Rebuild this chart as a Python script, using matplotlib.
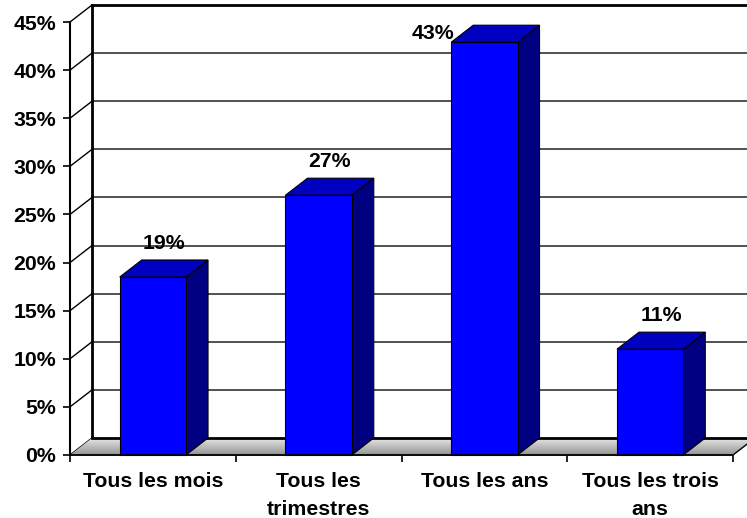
import numpy as np
import matplotlib
matplotlib.use("Agg")
import matplotlib.pyplot as plt
from matplotlib.patches import Polygon
from matplotlib.ticker import FixedLocator, FuncFormatter

# ---- data ----
categories = ["Tous les mois", "Tous les\ntrimestres", "Tous les ans", "Tous les trois\nans"]
values = [18.5, 27.0, 42.9, 11.0]          # percent
value_labels = ["19%", "27%", "43%", "11%"]
yticks = [0, 5, 10, 15, 20, 25, 30, 35, 40, 45]

# ---- layout (pixels) ----
W, H, DPI = 747, 518, 100
X0_PX, X1_PX = 70, 733       # front plot area, x=-0.5 .. 3.5
Y0_PX, Y1_PX = 455, 22       # front plot area, y=0 .. 45 (from top)
DEPTH_DX_PX, DEPTH_DY_PX = 22, 17
YMAX = 45
n = len(categories)

ppu_x = (X1_PX - X0_PX) / n
ppu_y = (Y0_PX - Y1_PX) / YMAX
DX = DEPTH_DX_PX / ppu_x
DY = DEPTH_DY_PX / ppu_y
BW = 0.4

plt.rcParams['font.family'] = ['Liberation Sans', 'DejaVu Sans']
plt.rcParams['font.weight'] = 'bold'
FS = 15.3

fig = plt.figure(figsize=(W / DPI, H / DPI), dpi=DPI)
ax = fig.add_axes([0, 0, 1, 1])
XLIM = (-0.5 - X0_PX / ppu_x, n - 0.5 + (W - X1_PX) / ppu_x)
YLIM = (-(H - Y0_PX) / ppu_y, YMAX + Y1_PX / ppu_y)
ax.set_xlim(*XLIM)
ax.set_ylim(*YLIM)
ax.patch.set_alpha(0)

L, R = -0.5, n - 0.5

# back wall
ax.add_patch(Polygon([(L + DX, DY), (R + DX, DY), (R + DX, YMAX + DY), (L + DX, YMAX + DY)],
                     closed=True, facecolor='white', edgecolor='none', zorder=1))
for t in yticks[1:-1]:
    ax.plot([L + DX, R + DX], [t + DY, t + DY], color='#333333', lw=1.2, zorder=2,
            solid_capstyle='butt')
ax.plot([L + DX, R + DX + 1], [YMAX + DY, YMAX + DY], color='black', lw=2, zorder=3)
ax.plot([L + DX, L + DX], [DY, YMAX + DY], color='black', lw=2, zorder=3)

# side wall lines
for t in yticks:
    ax.plot([L, L + DX], [t, t + DY], color='black', lw=1, zorder=3)

# floor with gradient
floor = Polygon([(L, 0), (R, 0), (R + DX, DY), (L + DX, DY)], closed=True,
                facecolor='none', edgecolor='none', zorder=4)
ax.add_patch(floor)
grad = np.linspace(0.9, 0.58, 64).reshape(-1, 1)
im = ax.imshow(grad, cmap='gray', vmin=0, vmax=1, aspect='auto',
               extent=[L, R + DX, 0, DY], origin='upper', zorder=4,
               interpolation='bilinear')
im.set_clip_path(floor)
ax.set_xlim(*XLIM)
ax.set_ylim(*YLIM)
ax.plot([L + DX, R + DX], [DY, DY], color='black', lw=2, zorder=5)
ax.plot([R, R + DX], [0, DY], color='black', lw=1, zorder=5)
ax.plot([L, R], [0, 0], color='#404040', lw=1.2, zorder=5)

# bars
front_c, top_c, side_c = '#0000FF', '#0000C0', '#000080'
for i, v in enumerate(values):
    x0, x1 = i - BW / 2, i + BW / 2
    ax.add_patch(Polygon([(x1, 0), (x1 + DX, DY), (x1 + DX, v + DY), (x1, v)], closed=True,
                         facecolor=side_c, edgecolor='black', lw=0.8, zorder=6))
    ax.add_patch(Polygon([(x0, v), (x1, v), (x1 + DX, v + DY), (x0 + DX, v + DY)], closed=True,
                         facecolor=top_c, edgecolor='black', lw=0.8, zorder=6))
    ax.add_patch(Polygon([(x0, 0), (x1, 0), (x1, v), (x0, v)], closed=True,
                         facecolor=front_c, edgecolor='black', lw=0.8, zorder=7))
    if v + DY + 28 / ppu_y > YLIM[1]:
        ax.annotate(value_labels[i], (x0, v), xytext=(3, 3), textcoords='offset pixels',
                    ha='right', va='baseline', fontsize=FS, fontweight='bold', zorder=8)
    else:
        ax.annotate(value_labels[i], (i + DX / 2, v + DY), xytext=(0, 11),
                    textcoords='offset pixels', ha='center', va='baseline',
                    fontsize=FS, fontweight='bold', zorder=8)

# axes
for s in ['top', 'right']:
    ax.spines[s].set_visible(False)
ax.spines['left'].set_position(('data', L))
ax.spines['left'].set_bounds(0, YMAX)
ax.spines['bottom'].set_position(('data', 0))
ax.spines['bottom'].set_bounds(L, R)
ax.spines['left'].set_linewidth(1.5)
ax.spines['bottom'].set_linewidth(1.2)
ax.spines['left'].set_zorder(9)
ax.spines['bottom'].set_zorder(9)

ax.yaxis.set_major_locator(FixedLocator(yticks))
ax.yaxis.set_major_formatter(FuncFormatter(lambda v, p: f"{v:.0f}%"))
ax.tick_params(axis='y', direction='out', length=5, width=1.2, pad=5,
               labelsize=FS)
ax.set_xticks([L + k for k in range(n + 1)])
ax.set_xticklabels([''] * (n + 1))
ax.set_xticks(list(range(n)), minor=True)
ax.set_xticklabels(categories, minor=True, fontsize=FS, fontweight='bold',
                   linespacing=1.6)
ax.tick_params(axis='x', which='major', direction='out', length=5, width=1.2)
ax.tick_params(axis='x', which='minor', length=0, pad=12)
for lab in ax.get_yticklabels():
    lab.set_fontweight('bold')

fig.savefig('out.png', dpi=DPI)
